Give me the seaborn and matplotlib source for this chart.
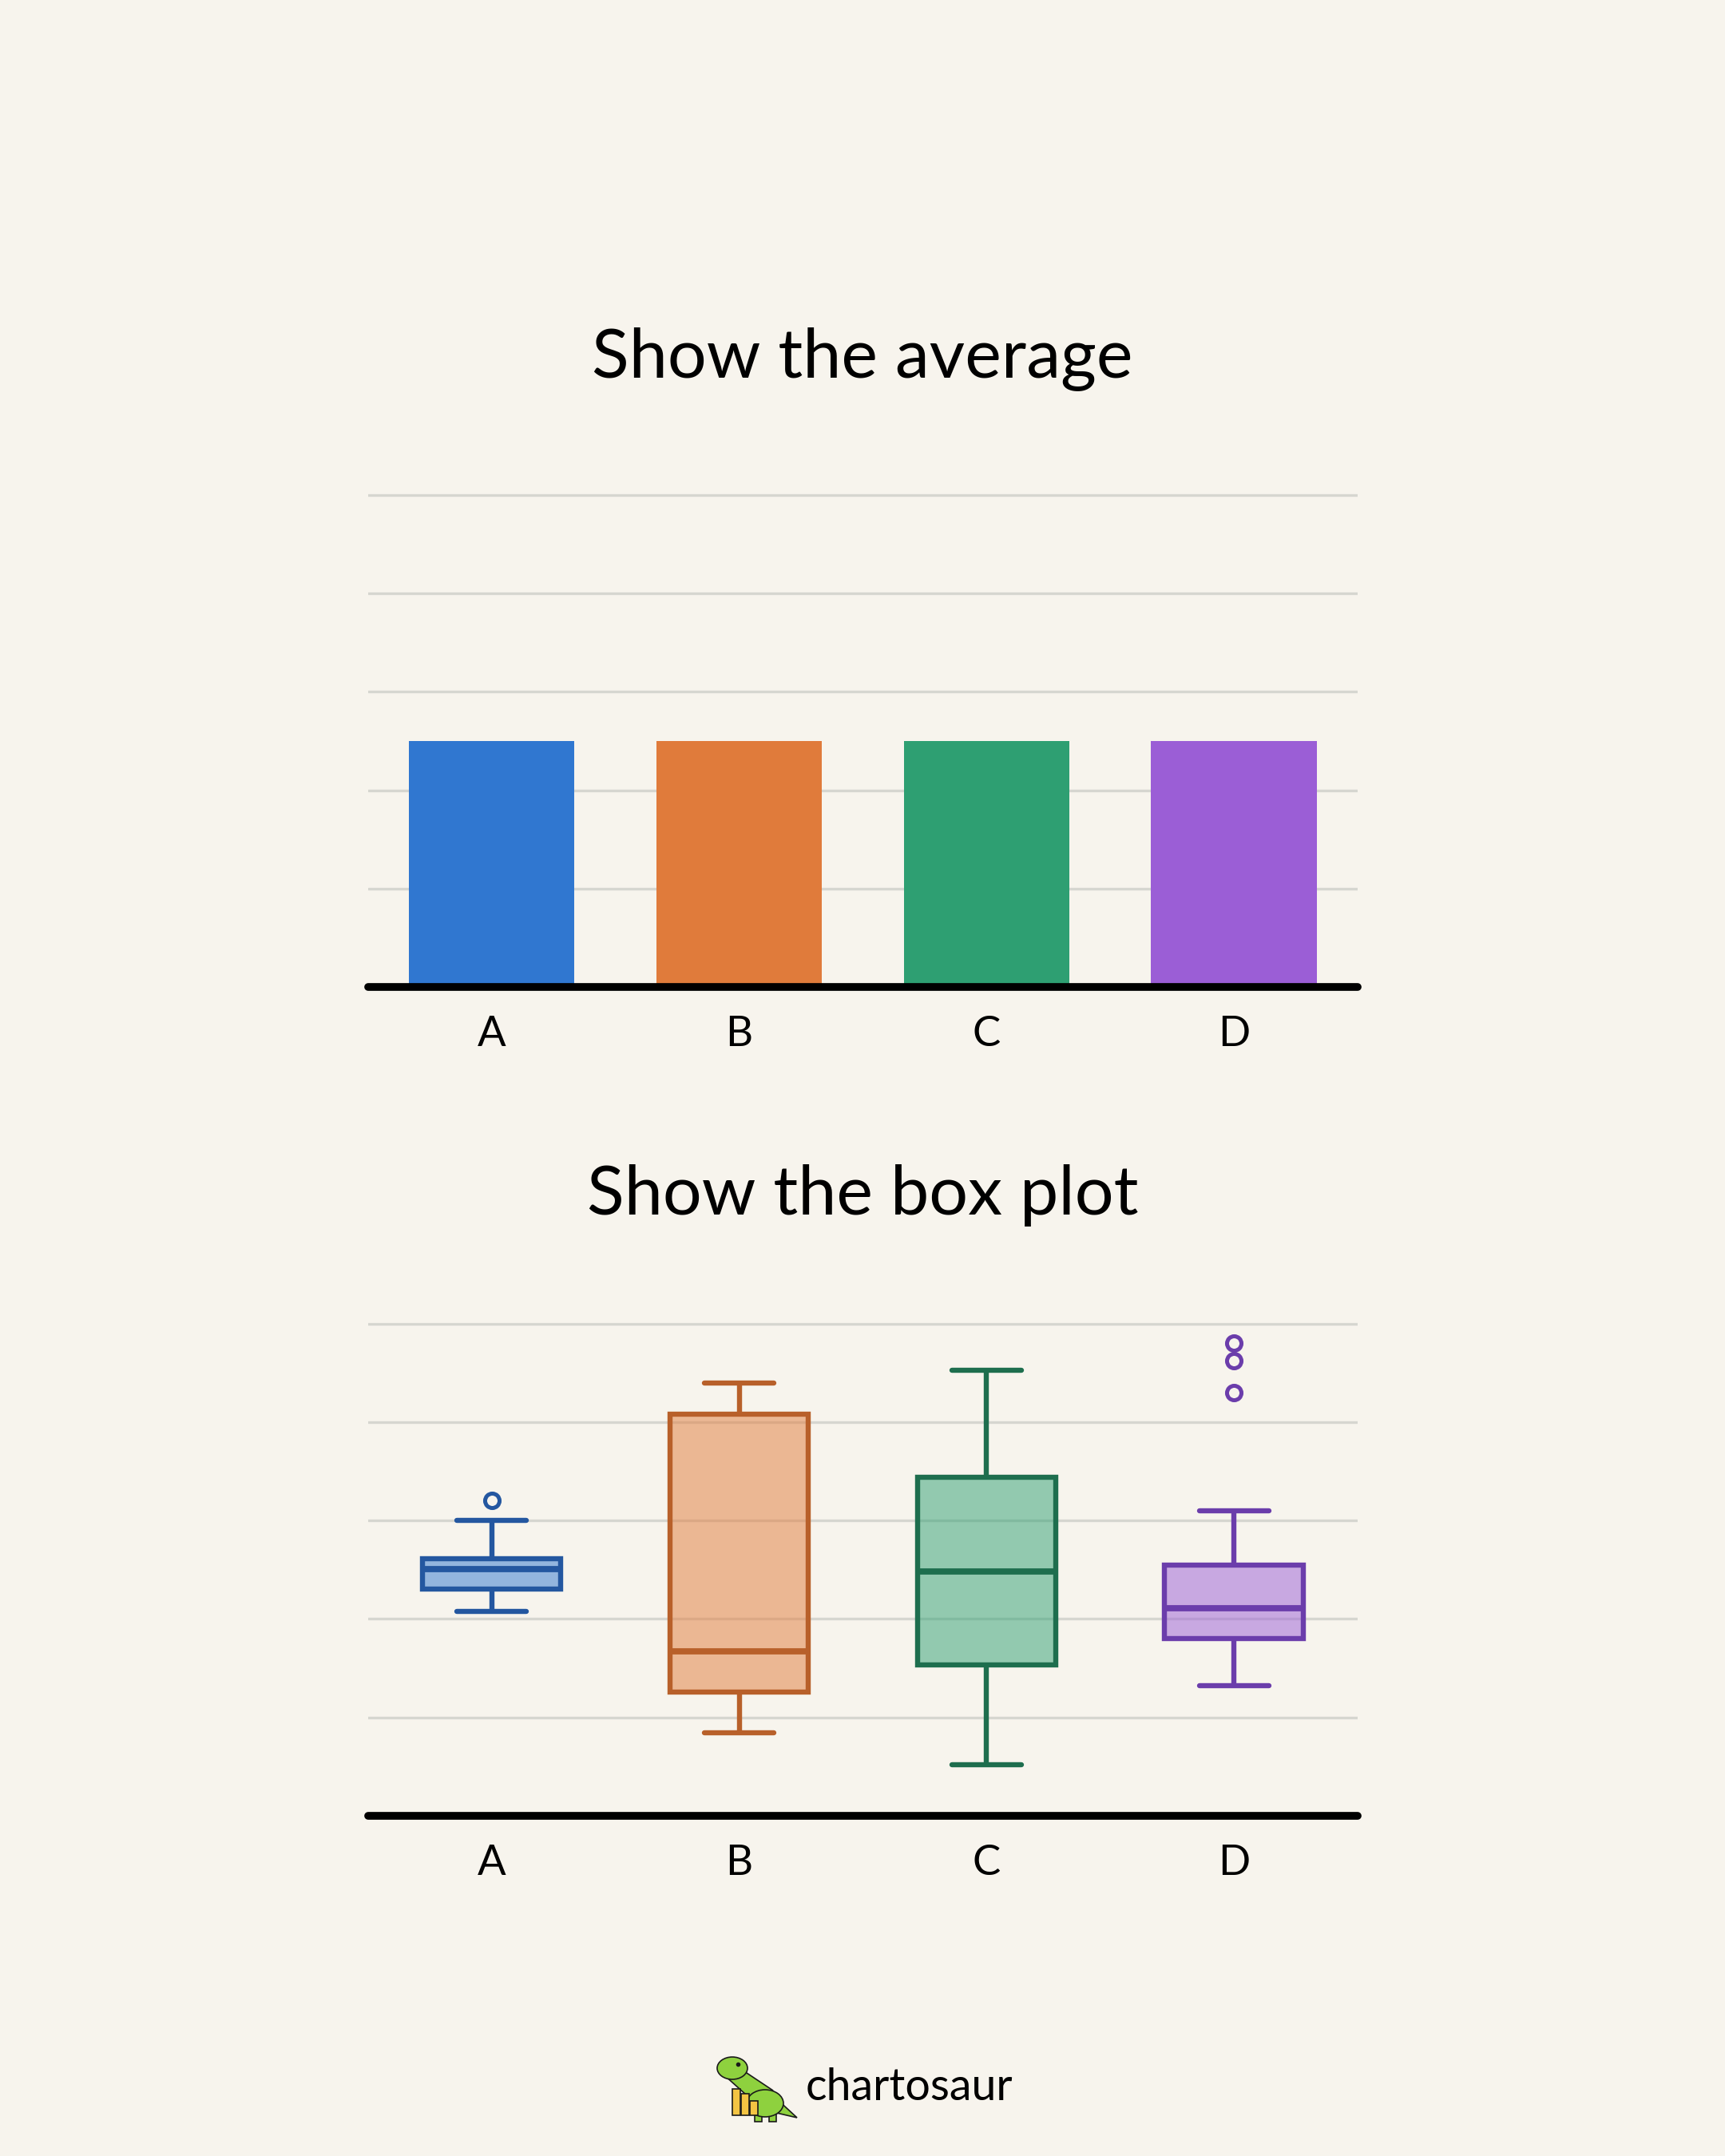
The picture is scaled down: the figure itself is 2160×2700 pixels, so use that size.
import numpy as np
import pandas as pd
import matplotlib.pyplot as plt
import seaborn as sns
from matplotlib.colors import to_rgba
from matplotlib.patches import Ellipse, Polygon, Rectangle

categories = ["A", "B", "C", "D"]
averages = [2.5, 2.5, 2.5, 2.5]

values_a = [2.08, 2.30, 2.30, 2.51, 2.51, 2.61, 2.61, 3.00, 3.20]
values_b = [0.84, 1.26, 1.67, 4.08, 4.40]
values_c = [0.52, 1.53, 2.48, 3.44, 4.53]
values_d = [1.32, 1.80, 1.80, 1.80, 1.80, 2.11, 2.11, 2.11, 2.11,
            2.55, 2.55, 2.55, 2.55, 3.10, 4.30, 4.62, 4.80]

bar_colors = ["#3077D0", "#E07B3B", "#2E9F72", "#9B5ED6"]
line_colors = ["#2457A0", "#B8602A", "#1E6E4E", "#6B3DAB"]

BG = "#F7F4ED"
GRID = "#D6D6D0"

sns.set_theme(style="white")
plt.rcParams["font.family"] = ["Lato", "DejaVu Sans"]

bar_df = pd.DataFrame({"group": categories, "average": averages})
groups = [values_a, values_b, values_c, values_d]
box_df = pd.DataFrame({
    "group": [c for c, v in zip(categories, groups) for _ in v],
    "value": [x for v in groups for x in v],
})

fig = plt.figure(figsize=(21.6, 27), dpi=100)
fig.patch.set_facecolor(BG)

ax1 = fig.add_axes([0.2133, 0.5422, 0.5738, 0.2374])
ax2 = fig.add_axes([0.2133, 0.1578, 0.5738, 0.2374])


def style_axes(ax):
    ax.set_facecolor(BG)
    ax.set_xlim(-0.5, 3.5)
    ax.set_ylim(0, 5.2)
    ax.set_yticks([1, 2, 3, 4, 5])
    ax.set_yticklabels([])
    ax.yaxis.grid(True, color=GRID, linewidth=2.4)
    ax.xaxis.grid(False)
    ax.set_axisbelow(True)
    for s in ["left", "right", "top"]:
        ax.spines[s].set_visible(False)
    ax.spines["bottom"].set_color("black")
    ax.spines["bottom"].set_linewidth(7)
    ax.spines["bottom"].set_capstyle("round")
    ax.spines["bottom"].set_zorder(5)
    ax.tick_params(axis="both", length=0)
    ax.tick_params(axis="x", labelsize=38, pad=26, colors="black")
    ax.set_xlabel("")
    ax.set_ylabel("")


sns.barplot(data=bar_df, x="group", y="average", hue="group", order=categories,
            palette=bar_colors, width=0.67, linewidth=0, saturation=1,
            legend=False, ax=ax1)
style_axes(ax1)

for cat, fc, lc in zip(categories, bar_colors, line_colors):
    sub = box_df[box_df["group"] == cat]
    sns.boxplot(data=sub, x="group", y="value", order=categories,
                width=0.56, color=fc, linecolor=lc, linewidth=4.6,
                boxprops=dict(facecolor=to_rgba(fc, 0.5)),
                medianprops=dict(linewidth=5.6),
                capprops=dict(solid_capstyle="round"),
                flierprops=dict(marker="o", markersize=13, markerfacecolor="none",
                                markeredgecolor=lc, markeredgewidth=3.6),
                ax=ax2)
style_axes(ax2)

fig.text(0.5, 0.8252, "Show the average", ha="center", va="baseline",
         fontsize=62, color="black")
fig.text(0.5, 0.4366, "Show the box plot", ha="center", va="baseline",
         fontsize=62, color="black")

# chartosaur logo
fig.text(0.467, 0.0315, "chartosaur", ha="left", va="center", fontsize=40,
         color="black")
logo = fig.add_axes([0, 0, 1, 1])
logo.set_xlim(0, 2160)
logo.set_ylim(2700, 0)
logo.axis("off")
green = "#8ED13E"
ink = "#1a1a1a"
for x, top in [(917, 2616), (928, 2622), (939, 2631)]:
    logo.add_patch(Rectangle((x, top), 10, 2649 - top, facecolor="#F3C443",
                             edgecolor=ink, linewidth=1.2, zorder=3))
logo.add_patch(Polygon([(972, 2628), (998, 2652), (968, 2645)], closed=True,
                       facecolor=green, edgecolor=ink, linewidth=1.2, zorder=1))
logo.add_patch(Polygon([(906, 2598), (926, 2590), (968, 2618), (944, 2632)],
                       closed=True, facecolor=green, edgecolor=ink, linewidth=1.2,
                       zorder=1))
logo.add_patch(Ellipse((958, 2634), 46, 34, facecolor=green, edgecolor=ink,
                       linewidth=1.2, zorder=2))
logo.add_patch(Ellipse((917, 2590), 38, 28, facecolor=green, edgecolor=ink,
                       linewidth=1.2, zorder=4))
logo.add_patch(Rectangle((945, 2645), 9, 12, facecolor=green, edgecolor=ink,
                         linewidth=1.2, zorder=1))
logo.add_patch(Rectangle((963, 2645), 9, 12, facecolor=green, edgecolor=ink,
                         linewidth=1.2, zorder=1))
logo.plot([924], [2585], "o", color=ink, markersize=3, zorder=5)

fig.savefig("out.png", dpi=100, facecolor=BG)
